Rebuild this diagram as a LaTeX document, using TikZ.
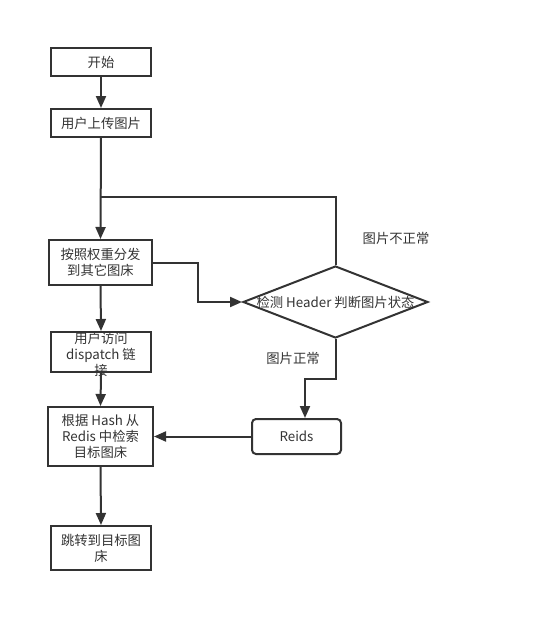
\documentclass[tikz,border=0pt]{standalone}
\usepackage{fontspec}
\setmainfont{Noto Sans CJK SC}
\usetikzlibrary{arrows.meta,shapes.geometric}
\definecolor{lc}{HTML}{333333}
\begin{document}
\begin{tikzpicture}[x=0.75pt,y=-0.75pt,
  font=\fontsize{10}{12}\selectfont, text=lc,
  box/.style={draw=lc, line width=1.5pt, rectangle, inner sep=0pt, align=center, minimum width=75pt},
  txt/.style={inner sep=0pt, align=center},
  flow/.style={draw=lc, line width=1.5pt, -{Triangle[length=9pt,width=7.5pt]}},
  plain/.style={draw=lc, line width=1.5pt}]
\useasboundingbox (0,0) rectangle (537,632);
\node[box, minimum height=21pt] (n1) at (101,62) {开始};
\node[box, minimum height=21pt] (n2) at (101,123) {用户上传图片};
\node[box, minimum width=77.25pt, minimum height=33.75pt] (n3) at (100.5,262.5) {按照权重分发\\到其它图床};
\node[box, minimum height=30pt] (n4) at (101,352) {};
\node[txt] (t4) at (101,354) {用户访问\\dispatch 链\\接};
\node[box, minimum width=78.75pt, minimum height=44.25pt] (n5) at (100.5,436.5) {根据 Hash 从\\Redis 中检索\\目标图床};
\node[box, minimum height=33pt] (n6) at (101,548) {跳转到目标图\\床};
\node[draw=lc, line width=1.5pt, diamond, inner sep=0pt, minimum width=138.75pt, minimum height=54pt] (d) at (335.5,302) {};
\node[txt] (td) at (335.5,302) {检测 Header 判断图片状态};
\node[draw=lc, line width=1.5pt, rectangle, rounded corners=3pt, minimum width=66.75pt, minimum height=26.25pt, inner sep=0pt] (r) at (296.5,436.5) {Reids};
\node[txt] (l1) at (396,238) {图片不正常};
\node[txt] (l2) at (293,358) {图片正常};
\coordinate (m) at (101,197);
\draw[flow] (n1.south) -- (n2.north);
\draw[flow] (n2.south) -- (n3.north);
\draw[plain] (d.north) |- (m);
\draw[flow] (n3.east) -- ++(45,0) |- (d.west);
\draw[flow] (n3.south) -- (n4.north);
\draw[flow] (n4.south) -- (n5.north);
\draw[flow] (n5.south) -- (n6.north);
\draw[flow] (d.south) -- ++(0,40) -| ([xshift=6.375pt]r.north);
\draw[flow] (r.west) -- (n5.east);
\end{tikzpicture}
\end{document}
